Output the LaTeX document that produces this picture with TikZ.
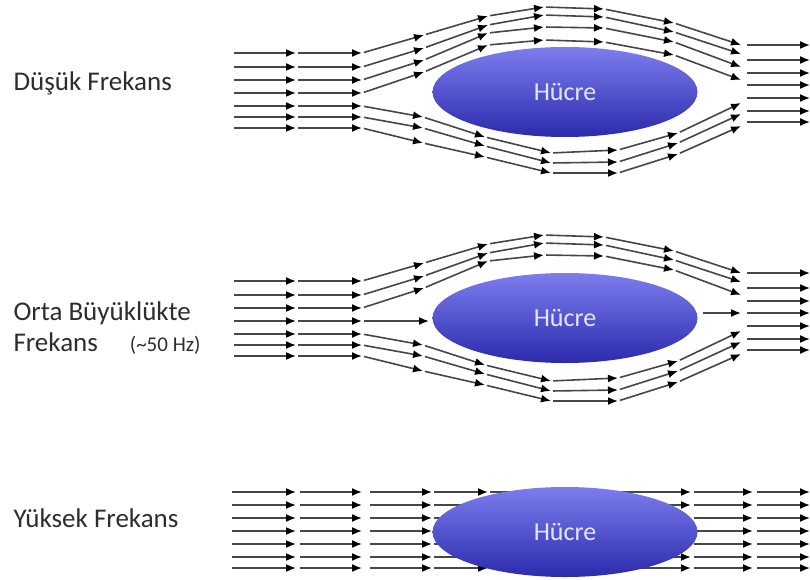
\documentclass[tikz,border=0pt]{standalone}
\usepackage{fontspec}
\setmainfont{Carlito}
\usetikzlibrary{arrows.meta,shapes.geometric}

\definecolor{flowgray}{RGB}{70,70,70}
\definecolor{labelgray}{RGB}{45,45,45}
\definecolor{celltop}{RGB}{125,125,238}
\definecolor{cellmid}{RGB}{82,82,228}
\definecolor{cellbot}{RGB}{42,42,172}
\definecolor{celltext}{RGB}{228,230,255}

% one flow line: an arrow segment between each pair of listed x/y points
\newcommand\flowline[1]{%
  \foreach \x/\y [count=\i, remember=\x as \lx (initially 0), remember=\y as \ly (initially 0)] in {#1}{%
    \ifnum\i>1 \draw[flow,shorten <=2pt] (\lx,\ly) -- (\x,\y);\fi}}

\begin{document}
\begin{tikzpicture}[x=1pt,y=-1pt,
    flow/.style={draw=flowgray,line width=1.6pt,-{Latex[length=10pt,width=8pt,color=black]}},
    cell/.style={ellipse,minimum width=265pt,minimum height=90pt,inner sep=0pt,
      top color=celltop,middle color=cellmid,bottom color=cellbot,
      text=celltext,font=\fontsize{26}{30}\selectfont},
    lab/.style={anchor=west,align=left,text=labelgray,font=\fontsize{27}{31}\selectfont}]
    \useasboundingbox (0,0) rectangle (810,580);

    %%%% Low frequency ===============================
    % upper branch
    \flowline{232/53, 296/53, 362/53, 424/35, 488/16, 544/7, 604/9, 674/23, 741/45}
    \flowline{232/67, 296/67, 362/67, 424/48, 488/25, 544/15, 604/17, 674/32, 741/54}
    \flowline{232/80, 296/80, 362/80, 424/60, 488/33, 544/27, 604/28, 674/42, 741/67}
    \flowline{232/93, 296/93, 362/93, 424/72, 488/45, 544/40, 604/42, 674/55, 741/80}
    % lower branch
    \flowline{232/106, 296/106, 362/106, 423/117, 485/137, 551/153, 618/150, 678/133, 741/103}
    \flowline{232/117, 296/117, 362/117, 423/128, 485/146, 551/163, 618/162, 678/143, 741/114}
    \flowline{232/128, 296/128, 362/128, 423/143, 485/157, 551/173, 618/173, 678/154, 741/126}
    % outlet
    \foreach \y in {45,60,73,85,98,111,122}
        \draw[flow] (747,\y) -- (810,\y);

    \node[cell] (cellLow) at (565,92) {Hücre};
    \node[lab] (labLow) at (10,83) {Düşük Frekans};

    %%%% Medium frequency ============================
    \begin{scope}[shift={(0,228)}]
        \flowline{232/53, 296/53, 362/53, 424/35, 488/16, 544/7, 604/9, 674/23, 741/45}
        \flowline{232/67, 296/67, 362/67, 424/48, 488/25, 544/15, 604/17, 674/32, 741/54}
        \flowline{232/80, 296/80, 362/80, 424/60, 488/33, 544/27, 604/28, 674/42, 741/67}
        \flowline{232/93, 296/93, 362/93, 429/93}
        \flowline{232/106, 296/106, 362/106, 423/117, 485/137, 551/153, 618/150, 678/133, 741/103}
        \flowline{232/117, 296/117, 362/117, 423/128, 485/146, 551/163, 618/162, 678/143, 741/114}
        \flowline{232/128, 296/128, 362/128, 423/143, 485/157, 551/173, 618/173, 678/154, 741/126}
        \draw[flow] (703,85) -- (741,85);
        \foreach \y in {45,60,73,85,98,111,122}
            \draw[flow] (747,\y) -- (810,\y);

        \node[cell] (cellMid) at (565,90) {Hücre};
    \end{scope}
    \node[lab] (labMid) at (10,328) {Orta Büyüklükte\\Frekans\hspace{32pt}{\fontsize{21}{24}\selectfont(\textasciitilde50 Hz)}};

    %%%% High frequency ==============================
    \foreach \y in {492,505,518,531,544,557,568}
        \foreach \xa/\xb in {232/296, 300/362, 370/432, 434/488, 490/691, 694/753, 757/810}
            \draw[flow] (\xa,\y) -- (\xb,\y);

    \node[cell] (cellHigh) at (565,532) {Hücre};
    \node[lab] (labHigh) at (10,518) {Yüksek Frekans};
\end{tikzpicture}
\end{document}
